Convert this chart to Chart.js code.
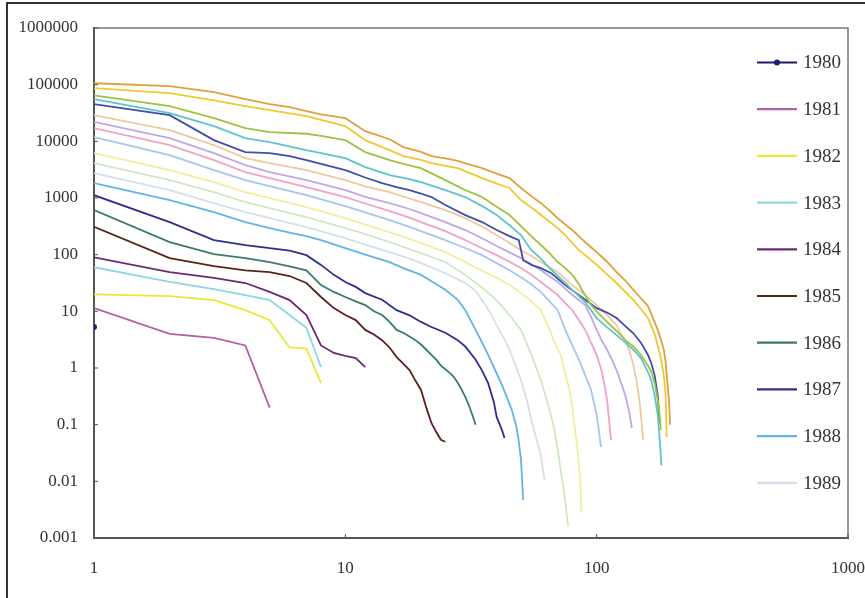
<!DOCTYPE html>
<html>
<head>
<meta charset="utf-8">
<script src="https://cdn.jsdelivr.net/npm/chart.js@4.4.1/dist/chart.umd.min.js"></script>
<style>
  html, body { margin: 0; padding: 0; background: #fff; }
  #frame { position: absolute; left: 6px; top: 2px; width: 900px; height: 700px;
           border-left: 2px solid #333; border-top: 2px solid #333; }
  #rankChart { position: absolute; left: 0; top: 0; }
</style>
</head>
<body>
<div id="frame"></div>
<canvas id="rankChart" width="865" height="598"></canvas>
<script>
// --- Data: [rank, value] per year ---
const YEARS = ['1980','1981','1982','1983','1984','1985','1986','1987','1988','1989',
               '1990','1991','1992','1993','1994','1995','1996','1997','1998','1999','2000'];

const s1980 = [[1,5.3]];
const s1981 = [[1,11.4],[2,4],[3,3.4],[4,2.5],[5,0.2]];
const s1982 = [[1,20],[2,18.6],[3,15.8],[4,10.5],[5,7],[6,2.3],[7,2.2],[8,0.54]];
const s1983 = [[1,60],[2,33],[3,24.7],[4,19.4],[5,15.8],[6,8.6],[7,5.1],[8,1.04]];
const s1984 = [[1,90],[2,49],[3,39],[4,31.6],[5,22],[6,15.8],[7,8.6],[8,2.5],[9,1.84],[10,1.63],[11,1.5],[12,1.04]];
const s1985 = [[1,310],[2,87],[3,63],[4,53],[5,49],[6,42],[7,31.6],[8,17.9],[9,11.4],[10,8.6],[11,7],[12,4.7],
               [13,3.9],[14,3.1],[15,2.3],[16,1.56],[17,1.2],[18,0.92],[19,0.6],[20,0.41],[21,0.2],[22,0.107],
               [23,0.074],[24,0.054],[25,0.05]];
const s1986 = [[1,612],[2,167],[3,102],[4,87],[5,74],[6,62],[7,53],[8,29],[9,22],[10,17.9],[11,15],[12,12.9],
               [13,10],[14,8.6],[15,6.5],[16,4.7],[17,4.2],[18,3.6],[19,3.1],[20,2.6],[21,2.1],[22,1.7],[23,1.4],
               [24,1.1],[25,0.95],[26,0.82],[27,0.7],[28,0.55],[29,0.42],[30,0.31],[31,0.22],[32,0.15],[33,0.1]];
const s1987 = [[1,1120],[2,376],[3,181],[4,148],[5,131],[6,118],[7,98],[8,66],[9,44],[10,33],[11,27],[12,21],
               [14,16],[16,10.5],[18,8.5],[20,6.5],[22,5.3],[25,4.2],[28,3.1],[30,2.4],[33,1.4],[35,0.9],
               [37,0.54],[39,0.25],[40,0.137],[42,0.08],[43,0.058]];
const s1988 = [[1,1830],[2,918],[3,564],[4,376],[5,294],[6,245],[7,213],[8,180],[10,131],[12,100],[15,74],
               [17,58],[20,44],[22,34],[25,24],[28,16],[30,10.5],[33,4.7],[35,2.8],[37,1.7],[40,0.8],[42,0.5],
               [44,0.3],[46,0.18],[48,0.09],[49,0.05],[50,0.024],[51,0.0047]];
const s1989 = [[1,2750],[2,1380],[3,810],[4,564],[5,442],[7,307],[10,196],[12,150],[15,111],[18,85],[20,71],
               [25,47],[30,31.6],[33,23],[35,15.8],[38,9],[40,5.7],[43,3.2],[45,2.1],[48,1.0],[50,0.61],
               [53,0.25],[55,0.12],[58,0.05],[60,0.029],[62,0.0105]];
const s1990 = [[1,4130],[2,2070],[3,1270],[4,846],[5,663],[7,460],[10,294],[12,230],[15,167],[18,125],[20,107],
               [25,74],[30,44],[35,26],[40,15.8],[45,8.6],[50,4.7],[55,1.7],[60,0.61],[65,0.18],[68,0.08],
               [70,0.036],[72,0.015],[74,0.007],[77,0.0016]];
const s1991 = [[1,6190],[2,3100],[3,1910],[4,1270],[5,995],[7,690],[10,442],[12,340],[15,250],[18,190],[20,160],
               [25,111],[30,74],[35,52],[40,39],[45,29],[50,21],[55,15],[60,10.5],[65,4.7],[68,2.8],[72,1.7],
               [75,0.8],[78,0.41],[80,0.2],[83,0.054],[85,0.02],[86,0.0105],[87,0.0028]];
const s1992 = [[1,11860],[2,5710],[3,3100],[4,2070],[5,1620],[7,1120],[10,720],[12,560],[15,408],[18,310],
               [20,261],[25,181],[30,131],[35,98],[40,71],[45,53],[50,40],[55,30],[60,21.9],[65,15],[70,10.5],
               [75,4.7],[80,2.5],[85,1.4],[90,0.75],[95,0.41],[100,0.15],[102,0.08],[104,0.04]];
const s1993 = [[1,17100],[2,8570],[3,4660],[4,2860],[5,2250],[7,1560],[10,1040],[12,800],[15,587],[18,450],
               [20,376],[25,261],[30,181],[35,130],[40,98],[45,75],[50,58],[55,44],[60,33],[65,25],[70,19.4],
               [75,14],[80,10.5],[85,7],[90,4.7],[95,2.8],[100,1.7],[105,0.85],[108,0.45],[110,0.27],
               [112,0.12],[114,0.054]];
const s1994 = [[1,22000],[2,11400],[3,6190],[4,3800],[5,2860],[7,2070],[10,1380],[12,1050],[15,810],[18,640],
               [20,542],[25,376],[30,272],[35,195],[40,142],[45,110],[50,87],[55,68],[60,53],[70,33],[80,19.4],
               [90,12.9],[95,8],[100,4.7],[105,3],[110,2.1],[115,1.4],[120,0.92],[125,0.55],[130,0.33],
               [135,0.16],[138,0.087]];
const s1995 = [[1,29000],[2,15800],[3,8570],[4,5060],[5,4130],[7,3100],[10,2070],[12,1600],[15,1270],[18,980],
               [20,846],[25,612],[30,442],[35,310],[40,222],[45,160],[50,120],[55,95],[60,74],[70,49],[80,29],
               [90,19.4],[100,12.9],[110,8.6],[120,5.7],[125,4],[130,3.1],[135,2.0],[140,1.13],[144,0.6],
               [148,0.27],[151,0.11],[153,0.054]];
const s1996 = [[1,45300],[2,29000],[3,10500],[4,6450],[5,6190],[6,5500],[7,4660],[8,4000],[10,3100],[12,2300],
               [14,1830],[16,1550],[18,1380],[20,1200],[22,1040],[25,750],[30,500],[35,376],[40,272],[45,213],
               [49,181],[50,120],[51,80],[55,66],[60,58],[66,47],[75,29],[87,17.9],[100,11.4],[110,9.5],
               [120,7.6],[130,5.5],[140,4.1],[150,2.8],[160,1.7],[165,1.2],[170,0.75],[175,0.33],[178,0.107]];
const s1997 = [[1,55500],[2,31400],[3,18500],[4,11400],[5,9700],[7,7000],[10,5060],[12,3510],[15,2540],
               [18,2150],[20,1910],[25,1380],[30,1040],[35,720],[40,500],[45,330],[50,222],[55,120],[60,85],
               [65,58],[70,42],[75,31.6],[80,24],[90,14.6],[100,7.6],[110,5.2],[120,3.8],[130,2.8],[140,2.1],
               [150,1.5],[160,0.85],[165,0.6],[170,0.33],[175,0.15],[177,0.081],[179,0.04],[181,0.019]];
const s1998 = [[1,65000],[2,41800],[3,25600],[4,17100],[5,14500],[7,13600],[8,12500],[10,10500],[12,6450],
               [15,4660],[17,4000],[20,3360],[25,2070],[30,1380],[35,1040],[40,700],[45,500],[50,320],[55,210],
               [60,148],[65,105],[70,74],[75,58],[80,44],[85,30],[90,19],[95,12.9],[100,10],[110,6.5],[120,4.5],
               [130,3.1],[140,2.4],[150,1.7],[160,1.1],[165,0.85],[170,0.55],[175,0.27],[178,0.15],[180,0.081]];
const s1999 = [[1,87000],[2,71000],[3,53000],[4,42000],[5,35500],[7,27800],[8,24000],[10,18500],[12,10500],
               [15,7000],[17,5500],[20,4700],[22,4130],[25,3700],[28,3360],[35,2250],[40,1800],[45,1500],
               [50,918],[55,680],[60,500],[65,380],[70,294],[75,220],[80,160],[85,120],[90,98],[95,80],[100,66],
               [110,45],[120,31.6],[130,22],[140,15.8],[150,11],[160,7.6],[165,5.5],[170,4],[175,2.5],[180,1.5],
               [185,0.75],[188,0.35],[190,0.061]];
const s2000 = [[1,106000],[2,94000],[3,74000],[4,55500],[5,45300],[6,40000],[7,34100],[8,30000],[10,25600],
               [12,15100],[15,10900],[17,7900],[20,6500],[22,5500],[25,5000],[28,4500],[30,4100],[35,3360],
               [40,2700],[45,2250],[50,1500],[55,1080],[60,810],[65,600],[70,440],[75,340],[80,272],[85,210],
               [90,167],[95,135],[100,111],[110,75],[120,49],[130,35],[140,24],[150,17],[160,12.4],[165,9],
               [170,6.5],[175,4.7],[180,3.2],[185,2.1],[188,1.3],[190,0.75],[192,0.45],[194,0.27],[196,0.1]];

const SERIES = [s1980, s1981, s1982, s1983, s1984, s1985, s1986, s1987, s1988, s1989, s1990,
                s1991, s1992, s1993, s1994, s1995, s1996, s1997, s1998, s1999, s2000];

const X_TICKS = [1, 10, 100, 1000];
const X_LABELS = ['1', '10', '100', '1000'];
const Y_TICKS = [0.001, 0.01, 0.1, 1, 10, 100, 1000, 10000, 100000, 1000000];
const Y_LABELS = ['0.001', '0.01', '0.1', '1', '10', '100', '1000', '10000', '100000', '1000000'];

const LEGEND_COUNT = 10; // only 1980-1989 fit in the legend box

// --- Styles ---
const COLORS = ['#1f1f66', '#b060a8', '#e8e838', '#8fd6e0', '#6a2a72', '#5a2418', '#3c7a6c', '#2e2e8e',
                '#62b4e6', '#d4e0ec', '#cfe8c4', '#f2eea0', '#a6c6ee', '#f0a2c8', '#c2a6e6', '#f0c89c',
                '#3f4ea6', '#5ec4cc', '#9cc43e', '#f0c832', '#e0a03c'];
const SERIF = "'Liberation Serif', 'DejaVu Serif', serif";

const datasets = SERIES.map((s, i) => ({
    label: YEARS[i],
    data: s.map(([x, y]) => ({ x, y })),
    borderColor: COLORS[i],
    backgroundColor: COLORS[i],
    borderWidth: 1.8,
    pointRadius: i === 0 ? 3 : 0,
    pointBackgroundColor: COLORS[i],
    pointBorderWidth: 0,
    tension: 0,
    fill: false,
    order: SERIES.length - i
}));

// frame, inside ticks and legend
const decorPlugin = {
    id: 'decor',
    afterDraw(chart) {
        const { ctx, chartArea: a, scales } = chart;
        ctx.save();
        // top and right frame
        ctx.strokeStyle = '#777';
        ctx.lineWidth = 1.5;
        ctx.beginPath();
        ctx.moveTo(a.left, a.top);
        ctx.lineTo(a.right, a.top);
        ctx.lineTo(a.right, a.bottom);
        ctx.stroke();

        // small inside ticks
        ctx.strokeStyle = '#555';
        ctx.lineWidth = 1;
        Y_TICKS.forEach(v => {
            const py = scales.y.getPixelForValue(v);
            ctx.beginPath(); ctx.moveTo(a.left, py); ctx.lineTo(a.left + 4, py); ctx.stroke();
        });
        X_TICKS.forEach(v => {
            const px = scales.x.getPixelForValue(v);
            ctx.beginPath(); ctx.moveTo(px, a.bottom); ctx.lineTo(px, a.bottom - 4); ctx.stroke();
        });

        // legend
        ctx.font = '19px ' + SERIF;
        ctx.textBaseline = 'middle';
        ctx.textAlign = 'left';
        const x0 = a.right - 91, x1 = a.right - 51;
        for (let i = 0; i < LEGEND_COUNT; i++) {
            const ds = chart.data.datasets[i];
            const ly = a.top + 34.5 + i * 46.7;
            ctx.strokeStyle = ds.borderColor;
            ctx.lineWidth = 2.2;
            ctx.beginPath(); ctx.moveTo(x0, ly); ctx.lineTo(x1, ly); ctx.stroke();
            if (ds.pointRadius > 0) {
                ctx.fillStyle = ds.borderColor;
                ctx.beginPath(); ctx.arc((x0 + x1) / 2, ly, 3, 0, Math.PI * 2); ctx.fill();
            }
            ctx.fillStyle = '#333';
            ctx.fillText(ds.label, x1 + 6, ly + 1);
        }
        ctx.restore();
    }
};

new Chart(document.getElementById('rankChart'), {
    type: 'line',
    data: { datasets },
    options: {
        responsive: false,
        animation: false,
        devicePixelRatio: 1,
        layout: { padding: { top: 28, right: 17, bottom: 0, left: 0 } },
        plugins: {
            legend: { display: false },
            tooltip: { enabled: false }
        },
        scales: {
            x: {
                type: 'logarithmic',
                min: 1,
                max: 1000,
                afterBuildTicks: axis => { axis.ticks = X_TICKS.map(v => ({ value: v })); },
                afterFit: axis => { axis.height = 60; axis.paddingLeft = 0; axis.paddingRight = 0; },
                grid: { display: false, drawTicks: false },
                border: { display: true, color: '#555', width: 2 },
                ticks: {
                    color: '#333',
                    padding: 20,
                    maxRotation: 0,
                    autoSkip: false,
                    font: { family: SERIF, size: 17 },
                    callback: (v, i) => X_LABELS[i]
                }
            },
            y: {
                type: 'logarithmic',
                min: 0.001,
                max: 1000000,
                afterBuildTicks: axis => { axis.ticks = Y_TICKS.map(v => ({ value: v })); },
                afterFit: axis => { axis.width = 94; axis.paddingTop = 0; axis.paddingBottom = 0; },
                grid: { display: false, drawTicks: false },
                border: { display: true, color: '#555', width: 2 },
                ticks: {
                    color: '#333',
                    padding: 16,
                    autoSkip: false,
                    font: { family: SERIF, size: 17 },
                    callback: (v, i) => Y_LABELS[i]
                }
            }
        }
    },
    plugins: [decorPlugin]
});
</script>
</body>
</html>
